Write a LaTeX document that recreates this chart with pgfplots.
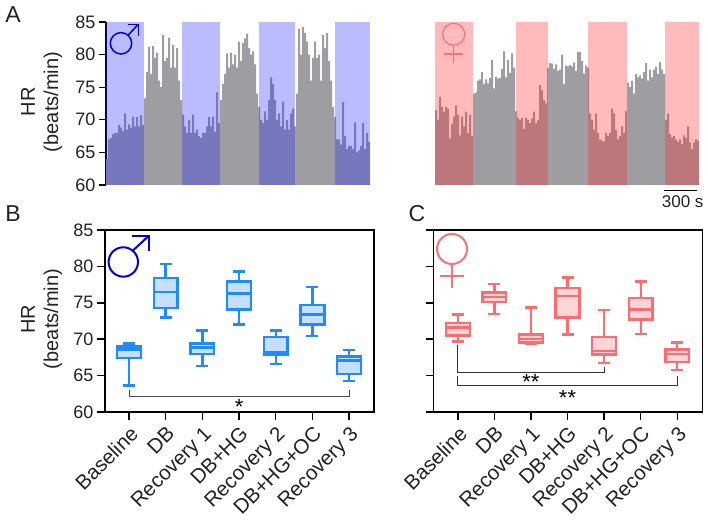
\documentclass[border=0pt]{standalone}
\usepackage{fontspec}
\setmainfont{Liberation Sans}
\usepackage{pgfplots}
\pgfplotsset{compat=1.18}
\usepgfplotslibrary{statistics}

\definecolor{histgrey}{HTML}{9E9EA2}
\definecolor{bandblue}{RGB}{30,30,255}
\definecolor{bandred}{RGB}{255,30,30}
\definecolor{boxblue}{HTML}{1E8CFF}
\definecolor{boxbluef}{HTML}{C6DFFC}
\definecolor{boxred}{HTML}{FF6B6E}
\definecolor{boxredf}{HTML}{FFD5D6}
\definecolor{symblue}{HTML}{0000E6}
\definecolor{symred}{HTML}{FF7074}
\definecolor{txt}{HTML}{222222}

\newcommand{\tickfont}{\fontsize{18}{20}\selectfont}
\newcommand{\catfont}{\fontsize{20.5}{22}\selectfont}
\newcommand{\labfont}{\fontsize{20}{22}\selectfont}
\newcommand{\starfont}{\fontsize{22}{24}\selectfont}

\pgfplotsset{
  hist/.style={width=264pt, height=163pt, scale only axis, anchor=south west,
    xmin=0, xmax=132, ymin=60, ymax=85, clip=true},
  band/.style={draw=none, fill=#1, fill opacity=0.3},
  boxes/.style={width=269pt, height=182pt, scale only axis, anchor=south west,
    ymin=60, ymax=85, ytick={60,65,70,75,80,85},
    xtick={1,2,3,4,5,6,7},
    xticklabels={Baseline,DB,Recovery 1,DB+HG,Recovery 2,DB+HG+OC,Recovery 3},
    xticklabel style={rotate=45, anchor=north east, inner sep=3.5pt, font=\catfont, text=txt},
    yticklabel style={font=\tickfont, text=txt},
    /pgf/number format/assume math mode=true,
    axis line style={line width=1.7pt},
    tick style={black, line width=1.5pt},
    tick align=outside, major tick length=8pt,
    xtick pos=bottom, ytick pos=left,
    boxplot/draw direction=y,
    boxplot/box extend=0.65, boxplot/whisker extend=0.33},
  bluebox/.style={draw=boxblue, fill=boxbluef, line width=2.4pt, solid},
  redbox/.style={draw=boxred, fill=boxredf, line width=2.4pt, solid},
}

\begin{document}
\begin{tikzpicture}
\path[use as bounding box] (0pt,0pt) rectangle (708pt,519pt);

% A, male trace
\begin{axis}[hist, at={(106pt,334pt)},
    axis y line=left, hide x axis,
    ytick={60,65,70,75,80,85},
    yticklabel style={font=\tickfont, text=txt},
    /pgf/number format/assume math mode=true,
    axis line style={-, line width=1.2pt},
    tick style={black, line width=1.2pt},
    tick align=outside, major tick length=7pt]
\addplot[const plot, draw=none, fill=histgrey] coordinates {
  (0,64)(1,67)(2,67.2)(3,67.8)(4,68)(5,68)(6,69.2)(7,68.8)(8,68.3)(9,71)(10,68.5)(11,69.3)(12,68.8)(13,70.5)(14,69)(15,70.4)(16,69)(17,70.7)(18,69.2)
  (19,73.3)(20,77.3)(21,81.2)(22,77)(23,81.3)(24,79.5)(25,80.3)(26,76)(27,75)(28,83)(29,79)(30,79.5)(31,82.6)(32,78)(33,81.5)(34,78)(35,81)(36,76)(37,73)
  (38,70.8)(39,69)(40,68)(41,70)(42,68)(43,70.8)(44,68)(45,68.5)(46,67.5)(47,67.2)(48,68)(49,68)(50,69)(51,70.4)(52,69)(53,70.5)(54,68.2)(55,74.2)(56,69.5)
  (57,73)(58,75.5)(59,77)(60,80.2)(61,78)(62,80.3)(63,78.5)(64,80)(65,78)(66,82)(67,79)(68,81.8)(69,82.5)(70,83.2)(71,81)(72,80)(73,80.5)(74,78.5)(75,74)
  (76,72)(77,70)(78,69.5)(79,71.3)(80,70)(81,73)(82,76.5)(83,75.5)(84,73)(85,70)(86,71)(87,69)(88,72.8)(89,68.5)(90,70)(91,68.5)(92,71)(93,71.7)(94,69)
  (95,74)(96,84)(97,80)(98,84.2)(99,83.3)(100,82)(101,80)(102,76)(103,79.5)(104,82)(105,79.5)(106,80)(107,76)(108,83)(109,81)(110,83.3)(111,79)(112,76)(113,72)(114,70.4)
  (115,67)(116,67)(117,66.2)(118,72.7)(119,67.5)(120,65.5)(121,66)(122,66)(123,65.5)(124,69.6)(125,65)(126,65.3)(127,66)(128,69.5)(129,65.5)(130,68)(131,66.6)(132,66.6)
} \closedcycle;
\addplot[band=bandblue] coordinates {(0,85)(19,85)} \closedcycle;
\addplot[band=bandblue] coordinates {(38,85)(57,85)} \closedcycle;
\addplot[band=bandblue] coordinates {(76.5,85)(94.5,85)} \closedcycle;
\addplot[band=bandblue] coordinates {(114.5,85)(132,85)} \closedcycle;
\end{axis}

% A, female trace
\begin{axis}[hist, at={(435pt,334pt)}, hide axis]
\addplot[const plot, draw=none, fill=histgrey] coordinates {
  (0,71.5)(1,70)(2,73.5)(3,72)(4,71.2)(5,72)(6,71.7)(7,67.1)(8,69.4)(9,70.5)(10,72.2)(11,70.8)(12,67.6)(13,70.5)(14,69)(15,71.2)(16,68)(17,70.7)(18,67.5)
  (19,74)(20,74.2)(21,76)(22,76.2)(23,77.3)(24,75.5)(25,76.2)(26,75.6)(27,76.4)(28,79.2)(29,74.8)(30,76.6)(31,76.3)(32,76.4)(33,77.8)(34,80.5)(35,76.5)(36,79.2)(37,77.2)(38,80.2)(39,78)
  (40,71.3)(41,70.3)(42,70)(43,70.3)(44,68.6)(45,70.3)(46,70)(47,69.5)(48,70.2)(49,71.2)(50,69.5)(51,70)(52,75.3)(53,74.5)(54,73)(55,72.5)
  (56,78)(57,78.7)(58,78.6)(59,77.8)(60,78.5)(61,77.5)(62,77.7)(63,80)(64,75.5)(65,78.3)(66,78.2)(67,78.4)(68,78.2)(69,78.8)(70,77.5)(71,80.4)(72,80.4)(73,79)(74,77.1)(75,78.3)(76,78)
  (77,71)(78,70)(79,68.5)(80,71)(81,68)(82,67)(83,66.8)(84,66.7)(85,68)(86,67.5)(87,68)(88,71.7)(89,71)(90,68.5)(91,67)(92,67.5)(93,69)(94,68)(95,71.3)
  (96,75.7)(97,75)(98,76)(99,74)(100,77)(101,76.5)(102,76.8)(103,76.3)(104,77.3)(105,78.7)(106,76)(107,77.7)(108,76.5)(109,77.7)(110,78.1)(111,77)(112,78.9)(113,77.7)(114,77)
  (115,70)(116,71)(117,67.8)(118,67.3)(119,67.5)(120,67)(121,66.6)(122,67)(123,66.3)(124,67.6)(125,67.2)(126,69)(127,66.5)(128,65.5)(129,66.5)(130,67)(131,66.8)(132,66.8)
} \closedcycle;
\addplot[band=bandred] coordinates {(0,85)(19,85)} \closedcycle;
\addplot[band=bandred] coordinates {(40.3,85)(56.3,85)} \closedcycle;
\addplot[band=bandred] coordinates {(76.7,85)(96,85)} \closedcycle;
\addplot[band=bandred] coordinates {(115,85)(132,85)} \closedcycle;
\end{axis}

% B
\begin{axis}[boxes, at={(105pt,107pt)}, xmin=0.345, xmax=7.68]
\addplot[bluebox, boxplot prepared={draw position=1, lower whisker=63.65, lower quartile=67.4, median=68.6, upper quartile=69, upper whisker=69.4}] coordinates {};
\addplot[bluebox, boxplot prepared={draw position=2, lower whisker=73, lower quartile=74.3, median=76.5, upper quartile=78.4, upper whisker=80.3}] coordinates {};
\addplot[bluebox, boxplot prepared={draw position=3, lower whisker=66.3, lower quartile=68, median=68.85, upper quartile=69.4, upper whisker=71.2}] coordinates {};
\addplot[bluebox, boxplot prepared={draw position=4, lower whisker=72, lower quartile=74.1, median=76.3, upper quartile=77.9, upper whisker=79.3}] coordinates {};
\addplot[bluebox, boxplot prepared={draw position=5, lower whisker=66.6, lower quartile=67.9, median=68.2, upper quartile=70.3, upper whisker=71.2}] coordinates {};
\addplot[bluebox, boxplot prepared={draw position=6, lower whisker=70.4, lower quartile=72, median=73.4, upper quartile=74.7, upper whisker=77.2}] coordinates {};
\addplot[bluebox, boxplot prepared={draw position=7, lower whisker=64.25, lower quartile=65.2, median=67.1, upper quartile=67.6, upper whisker=68.5}] coordinates {};
\draw[black!70, line width=0.8pt] (axis cs:1,63.06) -- (axis cs:1,62.2) -- (axis cs:7,62.2) -- (axis cs:7,63.06);
\node[inner sep=0pt, font=\starfont] at (axis cs:4,60.7) {*};
\end{axis}

% C
\begin{axis}[boxes, at={(433.5pt,107pt)}, xmin=0.335, xmax=7.69, yticklabels={}]
\addplot[redbox, boxplot prepared={draw position=1, lower whisker=69.7, lower quartile=70.5, median=71.6, upper quartile=72.2, upper whisker=73.4}] coordinates {};
\addplot[redbox, boxplot prepared={draw position=2, lower whisker=73.5, lower quartile=75.1, median=75.8, upper quartile=76.4, upper whisker=77.6}] coordinates {};
\addplot[redbox, boxplot prepared={draw position=3, lower whisker=69.3, lower quartile=69.55, median=70, upper quartile=70.65, upper whisker=74.35}] coordinates {};
\addplot[redbox, boxplot prepared={draw position=4, lower whisker=70.65, lower quartile=73, median=75.95, upper quartile=77, upper whisker=78.5}] coordinates {};
\addplot[redbox, boxplot prepared={draw position=5, lower whisker=66.7, lower quartile=67.9, median=68.4, upper quartile=70.3, upper whisker=74}] coordinates {};
\addplot[redbox, boxplot prepared={draw position=6, lower whisker=70.7, lower quartile=72.7, median=74.1, upper quartile=75.7, upper whisker=77.9}] coordinates {};
\addplot[redbox, boxplot prepared={draw position=7, lower whisker=65.75, lower quartile=66.9, median=68, upper quartile=68.6, upper whisker=69.55}] coordinates {};
\draw[black!80, line width=0.8pt] (axis cs:1,69.2) -- (axis cs:1,65.5) -- (axis cs:5,65.5) -- (axis cs:5,66.25);
\draw[black!80, line width=0.8pt] (axis cs:1,65) -- (axis cs:1,63.65) -- (axis cs:7,63.65) -- (axis cs:7,65);
\node[inner sep=0pt, font=\starfont] at (axis cs:3,64.1) {**};
\node[inner sep=0pt, font=\starfont] at (axis cs:4,62) {**};
\end{axis}

\begin{scope}[x=1pt, y=1pt]
% sex symbols
\begin{scope}[symblue, line width=1.5pt]
\draw (121,475.7) circle (10.7pt);
\draw (128.3,484) -- (138.3,494.7);
\draw (128.3,494.7) -- (138.3,494.7) -- (138.3,483);
\end{scope}
\begin{scope}[symblue, line width=2pt]
\draw (123.3,257) circle (14.7pt);
\draw (132,267.7) -- (149,283.3);
\draw (132,283.3) -- (149,283.3) -- (149,268.3);
\end{scope}
\begin{scope}[symred, line width=1.2pt]
\draw (453.7,484.7) circle (11pt);
\draw (453.7,473.7) -- (453.7,455.7);
\draw (444,465) -- (463.3,465);
\end{scope}
\begin{scope}[symred, line width=2pt]
\draw (452,270) circle (15pt);
\draw (452,255) -- (452,231.3);
\draw (439.7,243) -- (464,243);
\end{scope}

% scale bar
\draw[black, line width=1.6pt] (664.3,328.3) -- (696.7,328.3);
\node[text=txt, font=\fontsize{17}{19}\selectfont] at (682.7,317.3) {300 s};

% labels
\node[rotate=90, text=txt, font=\labfont] at (28,417) {HR};
\node[rotate=90, text=txt, font=\labfont] at (53,417) {(beats/min)};
\node[rotate=90, text=txt, font=\labfont] at (28,200) {HR};
\node[rotate=90, text=txt, font=\labfont] at (53,200) {(beats/min)};
\node[text=txt, font=\fontsize{23}{25}\selectfont] at (13,504) {A};
\node[text=txt, font=\fontsize{23}{25}\selectfont] at (13,305) {B};
\node[text=txt, font=\fontsize{23}{25}\selectfont] at (417,305) {C};
\end{scope}
\end{tikzpicture}
\end{document}
